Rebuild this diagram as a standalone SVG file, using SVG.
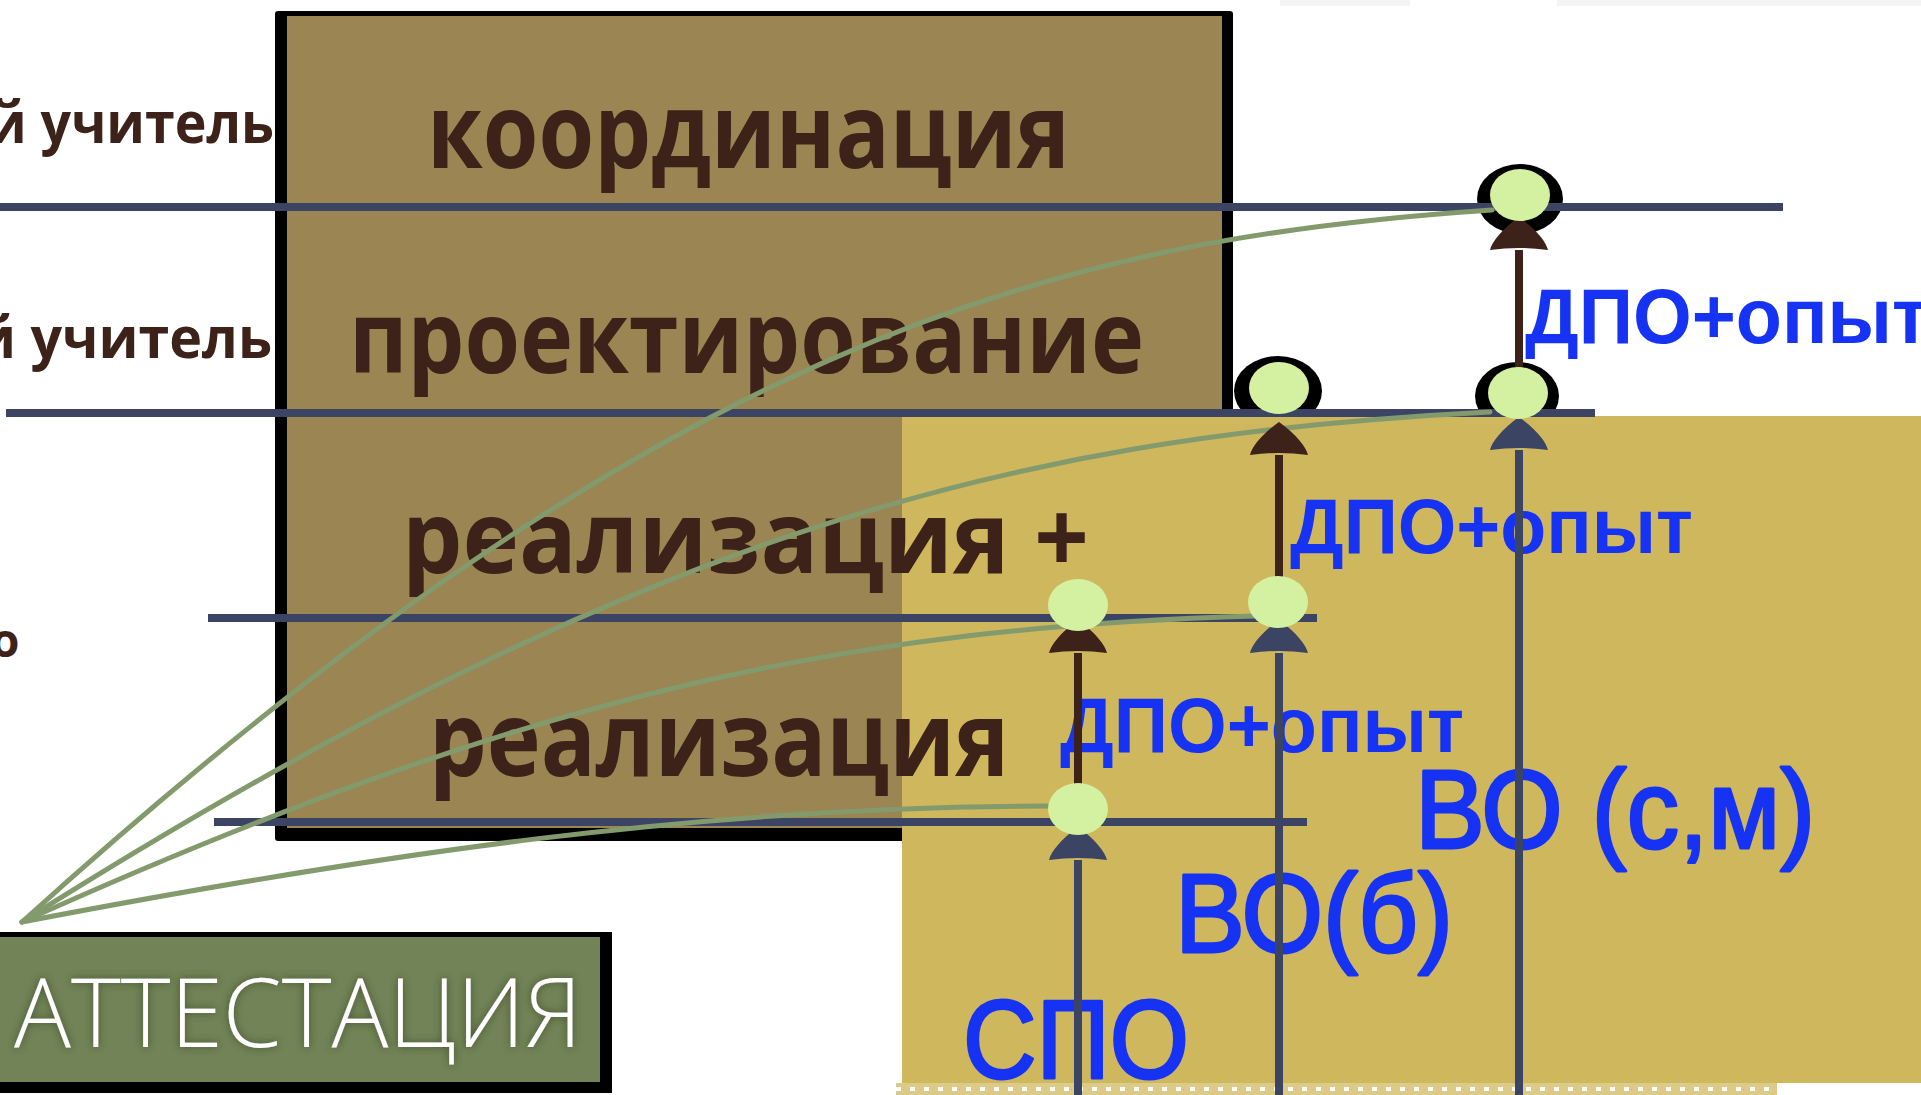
<svg xmlns="http://www.w3.org/2000/svg" width="1921" height="1095" viewBox="0 0 1921 1095">
<defs>
<style>
.lvl{font-family:"Open Sans","Noto Sans","Liberation Sans",sans-serif;font-weight:700;fill:#3d2219}
.blue{font-family:"Liberation Sans","Noto Sans",sans-serif;font-weight:700;fill:#1633f4}
.hand{font-family:"Liberation Sans","Noto Sans",sans-serif;font-weight:400;fill:#1633f4;stroke:#1633f4;stroke-width:3;stroke-linejoin:round}
.hline{stroke:#3b4463;stroke-width:8;fill:none}
.vnavy{stroke:#3b4463;stroke-width:8;fill:none;marker-end:url(#headNavy)}
.vbrown{stroke:#3d2219;stroke-width:8;fill:none;marker-end:url(#headBrown)}
.curve{stroke:#839a6d;stroke-width:5;fill:none;stroke-linecap:round}
.dot{fill:#d4f1a1}
.ring{fill:#000}
</style>
<marker id="headNavy" viewBox="-1 -30 36 60" markerWidth="36" markerHeight="60" refX="0" refY="0" markerUnits="userSpaceOnUse" orient="auto">
<path d="M0,-29 C8,-27 20,-18 33,0 C20,18 8,27 0,29 Q4,0 0,-29 Z" fill="#3b4463"/>
</marker>
<marker id="headBrown" viewBox="-1 -30 36 60" markerWidth="36" markerHeight="60" refX="0" refY="0" markerUnits="userSpaceOnUse" orient="auto">
<path d="M0,-29 C8,-27 20,-18 33,0 C20,18 8,27 0,29 Q4,0 0,-29 Z" fill="#3d2219"/>
</marker>
<filter id="glow" x="-10%" y="-30%" width="120%" height="160%">
<feGaussianBlur in="SourceAlpha" stdDeviation="4" result="b"/>
<feFlood flood-color="#2f3a1e" flood-opacity="0.75"/>
<feComposite in2="b" operator="in" result="s"/>
<feMerge><feMergeNode in="s"/><feMergeNode in="SourceGraphic"/></feMerge>
</filter>
</defs>

<rect x="0" y="0" width="1921" height="1095" fill="#ffffff"/>
<g id="background">
<rect x="1280" y="0" width="130" height="6" fill="#f4f4f4"/>
<rect x="1557" y="0" width="364" height="6" fill="#f4f4f4"/>
<rect x="275" y="11" width="958" height="830" rx="3" fill="#000"/>
<rect x="287" y="16" width="935" height="812" fill="#9a8553"/>
<g id="node-rings">
<ellipse class="ring" cx="1520" cy="199" rx="43" ry="35"/>
<ellipse class="ring" cx="1517" cy="396" rx="42" ry="34"/>
<ellipse class="ring" cx="1278" cy="391" rx="44" ry="35"/>
</g>
<rect x="902" y="416" width="1019" height="667" fill="#cfb75e"/>
<rect x="896" y="1083" width="881" height="12" fill="#dccb86"/>
<line x1="896" y1="1089" x2="1777" y2="1089" stroke="#ffffff" stroke-width="4" stroke-dasharray="5 9"/>
</g>

<g id="attestation">
<rect x="-10" y="932" width="622" height="161" fill="#000"/>
<rect x="-10" y="937" width="610" height="145" fill="#728457"/>
<text x="14" y="1047" font-family="'Open Sans','Liberation Sans',sans-serif" font-weight="300" font-size="95" textLength="568" lengthAdjust="spacingAndGlyphs" fill="#ffffff" filter="url(#glow)">АТТЕСТАЦИЯ</text>
</g>

<g id="level-coordination"><text class="lvl" x="427" y="168" font-size="104" textLength="643" lengthAdjust="spacingAndGlyphs">координация</text></g>
<g id="level-design"><text class="lvl" x="349" y="373" font-size="100" textLength="795" lengthAdjust="spacingAndGlyphs">проектирование</text></g>
<g id="level-realization-plus"><text class="lvl" x="402" y="573" font-size="100" textLength="687" lengthAdjust="spacingAndGlyphs">реализация +</text></g>
<g id="level-realization"><text class="lvl" x="429" y="776" font-size="104" textLength="580" lengthAdjust="spacingAndGlyphs">реализация</text></g>

<g id="side-labels">
<text class="lvl" x="-12" y="143" font-size="58" textLength="286" lengthAdjust="spacingAndGlyphs">й учитель</text>
<text class="lvl" x="-24" y="358" font-size="58" textLength="296" lengthAdjust="spacingAndGlyphs">й учитель</text>
<text class="lvl" x="-9" y="657" font-size="46">о</text>
</g>

<g id="edu-labels">
<text class="blue" x="1525" y="343" font-size="78" textLength="404" lengthAdjust="spacingAndGlyphs">ДПО+опыт</text>
<text class="blue" x="1290" y="553" font-size="78" textLength="403" lengthAdjust="spacingAndGlyphs">ДПО+опыт</text>
<text class="blue" x="1060" y="752" font-size="78" textLength="404" lengthAdjust="spacingAndGlyphs">ДПО+опыт</text>
<text class="hand" x="1415" y="848" font-size="112" textLength="400" lengthAdjust="spacingAndGlyphs">ВО (с,м)</text>
<text class="hand" x="1175" y="952" font-size="112" textLength="278" lengthAdjust="spacingAndGlyphs">ВО(б)</text>
<text class="hand" x="963" y="1078" font-size="112" textLength="226" lengthAdjust="spacingAndGlyphs">СПО</text>
</g>

<g id="connectors">
<line class="hline" x1="0" y1="207" x2="1783" y2="207"/>
<line class="hline" x1="6" y1="413" x2="1595" y2="413"/>
<line class="hline" x1="208" y1="618" x2="1317" y2="618"/>
<line class="hline" x1="214" y1="822" x2="1307" y2="822"/>
<path class="curve" d="M22,922 C660,345 1042,240 1492,210"/>
<path class="curve" d="M22,922 C622,544 990,437 1490,412"/>
<path class="curve" d="M22,922 C542,688 855,628 1255,616"/>
<path class="curve" d="M22,922 C372,855 700,806 1050,806"/>
<line class="vnavy" x1="1078" y1="1095" x2="1078" y2="860"/>
<line class="vbrown" x1="1078" y1="809" x2="1078" y2="653"/>
<line class="vnavy" x1="1279" y1="1095" x2="1279" y2="653"/>
<line class="vbrown" x1="1279" y1="602" x2="1279" y2="455"/>
<line class="vnavy" x1="1519" y1="1095" x2="1519" y2="450"/>
<line class="vbrown" x1="1519" y1="393" x2="1519" y2="250"/>
</g>

<g id="node-c1"><ellipse class="dot" cx="1520" cy="195" rx="30" ry="26"/></g>
<g id="node-c2"><ellipse class="dot" cx="1518" cy="393" rx="30" ry="26"/></g>
<g id="node-c3"><ellipse class="dot" cx="1279" cy="388" rx="30" ry="26"/></g>
<g id="node-c4"><ellipse class="dot" cx="1078" cy="605" rx="30" ry="26"/></g>
<g id="node-c5"><ellipse class="dot" cx="1278" cy="602" rx="30" ry="26"/></g>
<g id="node-c6"><ellipse class="dot" cx="1078" cy="809" rx="30" ry="26"/></g>
</svg>
